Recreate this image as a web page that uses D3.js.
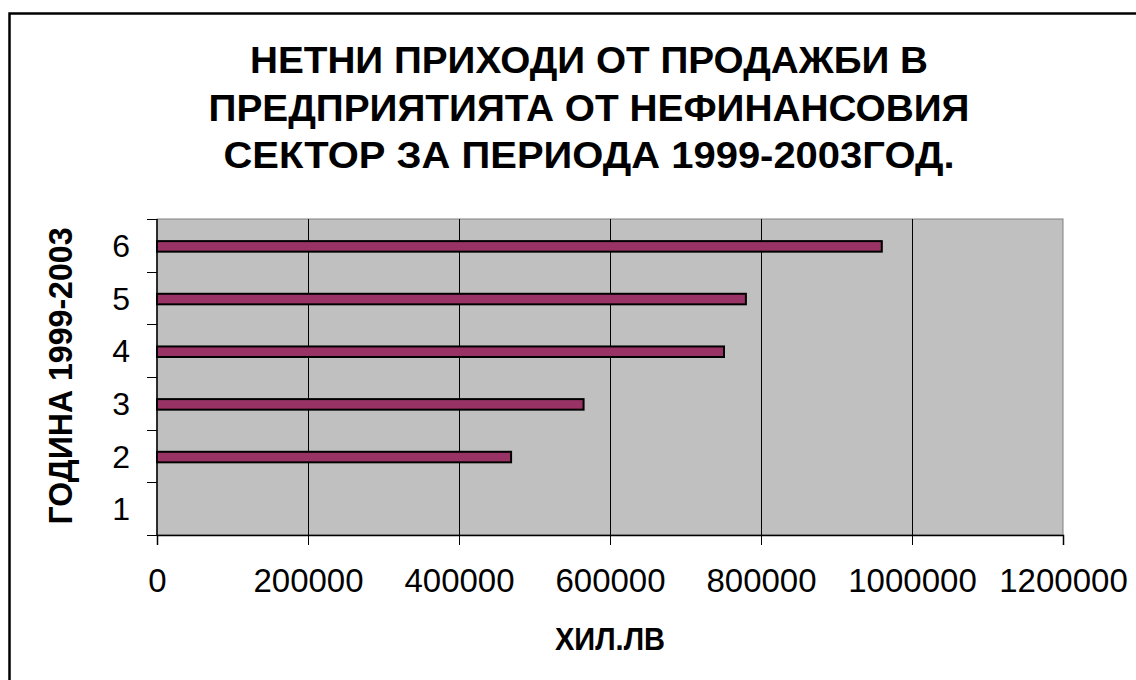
<!DOCTYPE html>
<html>
<head>
<meta charset="utf-8">
<script src="https://cdn.jsdelivr.net/npm/d3@7"></script>
<style>
  body { margin: 0; background: #fff; }
  svg { display: block; font-family: "Liberation Sans", Arial, sans-serif; }
</style>
</head>
<body>
<svg id="chart"></svg>
<script>
// data
var categories = ["1", "2", "3", "4", "5", "6"];
var values = [0, 469000, 565000, 751000, 780000, 960000];
var xTicks = [0, 200000, 400000, 600000, 800000, 1000000, 1200000];
var titleLines = ["НЕТНИ ПРИХОДИ ОТ ПРОДАЖБИ В", "ПРЕДПРИЯТИЯТА ОТ НЕФИНАНСОВИЯ", "СЕКТОР ЗА ПЕРИОДА 1999-2003ГОД."];
var xTitle = "ХИЛ.ЛВ";
var yTitle = "ГОДИНА 1999-2003";

var width = 1136, height = 680;
var plot = {left: 157, top: 219, right: 1063, bottom: 535};

var svg = d3.select("#chart").attr("width", width).attr("height", height);

// outer chart frame (right/bottom edges fall outside the picture)
svg.append("rect")
    .attr("x", 9.5).attr("y", 13.5)
    .attr("width", 1200).attr("height", 800)
    .attr("fill", "none").attr("stroke", "#000").attr("stroke-width", 2.5);

var x = d3.scaleLinear().domain([0, 1200000]).range([plot.left, plot.right]);
var y = d3.scaleBand().domain(categories.slice().reverse()).range([plot.top, plot.bottom]).padding(0);

// plot area
svg.append("rect")
    .attr("x", plot.left).attr("y", plot.top)
    .attr("width", plot.right - plot.left).attr("height", plot.bottom - plot.top)
    .attr("fill", "#c0c0c0").attr("stroke", "#808080").attr("stroke-width", 1);

// vertical gridlines
svg.selectAll(".grid")
    .data(xTicks.slice(1, -1))
    .enter().append("line")
    .attr("class", "grid")
    .attr("x1", function (d) { return Math.round(x(d)) + 0.5; })
    .attr("x2", function (d) { return Math.round(x(d)) + 0.5; })
    .attr("y1", plot.top).attr("y2", plot.bottom)
    .attr("stroke", "#000").attr("stroke-width", 1);

// bars
var data = categories.map(function (c, i) { return {cat: c, value: values[i]}; });
svg.selectAll(".bar")
    .data(data.filter(function (d) { return d.value > 0; }))
    .enter().append("rect")
    .attr("class", "bar")
    .attr("x", x(0))
    .attr("y", function (d) { return y(d.cat) + y.bandwidth() * 0.42; })
    .attr("width", function (d) { return x(d.value) - x(0); })
    .attr("height", y.bandwidth() * 0.2)
    .attr("fill", "#993366")
    .attr("stroke", "#000").attr("stroke-width", 2);

// x axis
var xAxis = d3.axisBottom(x).tickValues(xTicks).tickSize(10).tickPadding(24)
    .tickFormat(function (d) { return String(d); });
var gx = svg.append("g")
    .attr("transform", "translate(0," + plot.bottom + ")")
    .call(xAxis);
gx.select(".domain").attr("stroke", "#000").attr("stroke-width", 1.5);
gx.selectAll(".tick line").attr("stroke", "#000");
gx.selectAll(".tick text")
    .attr("fill", "#000")
    .style("font-size", "33px")
    .style("font-family", "'Liberation Sans', Arial, sans-serif");

// y axis: ticks on band edges, labels in band centres
var yEdges = d3.range(categories.length + 1).map(function (i) { return plot.top + i * y.step(); });
svg.append("line")
    .attr("x1", plot.left).attr("x2", plot.left)
    .attr("y1", plot.top).attr("y2", plot.bottom)
    .attr("stroke", "#000").attr("stroke-width", 1.5);
svg.selectAll(".ytick")
    .data(yEdges)
    .enter().append("line")
    .attr("class", "ytick")
    .attr("x1", plot.left - 10).attr("x2", plot.left)
    .attr("y1", function (d) { return Math.round(d) + 0.5; })
    .attr("y2", function (d) { return Math.round(d) + 0.5; })
    .attr("stroke", "#000");
svg.selectAll(".ylabel")
    .data(categories)
    .enter().append("text")
    .attr("class", "ylabel")
    .attr("x", 130)
    .attr("y", function (d) { return y(d) + y.bandwidth() / 2; })
    .attr("dy", "0.36em")
    .attr("text-anchor", "end")
    .style("font-size", "32px")
    .text(function (d) { return d; });

// title, three lines, stretched to the widths seen in the picture
var titleWidths = [678, 761, 731];
svg.selectAll(".title")
    .data(titleLines)
    .enter().append("text")
    .attr("class", "title")
    .attr("x", function (d, i) { return 589 - titleWidths[i] / 2; })
    .attr("y", function (d, i) { return 73 + i * 47.5; })
    .attr("textLength", function (d, i) { return titleWidths[i]; })
    .attr("lengthAdjust", "spacingAndGlyphs")
    .style("font-size", "36px").style("font-weight", "bold")
    .text(function (d) { return d; });

// axis titles
svg.append("text")
    .attr("x", (plot.left + plot.right) / 2 - 55).attr("y", 650)
    .attr("textLength", 110)
    .attr("lengthAdjust", "spacingAndGlyphs")
    .style("font-size", "32px").style("font-weight", "bold")
    .text(xTitle);

svg.append("text")
    .attr("transform", "translate(72,376) rotate(-90)")
    .attr("x", -148.5)
    .attr("textLength", 297)
    .attr("lengthAdjust", "spacingAndGlyphs")
    .style("font-size", "34px").style("font-weight", "bold")
    .text(yTitle);
</script>
</body>
</html>
